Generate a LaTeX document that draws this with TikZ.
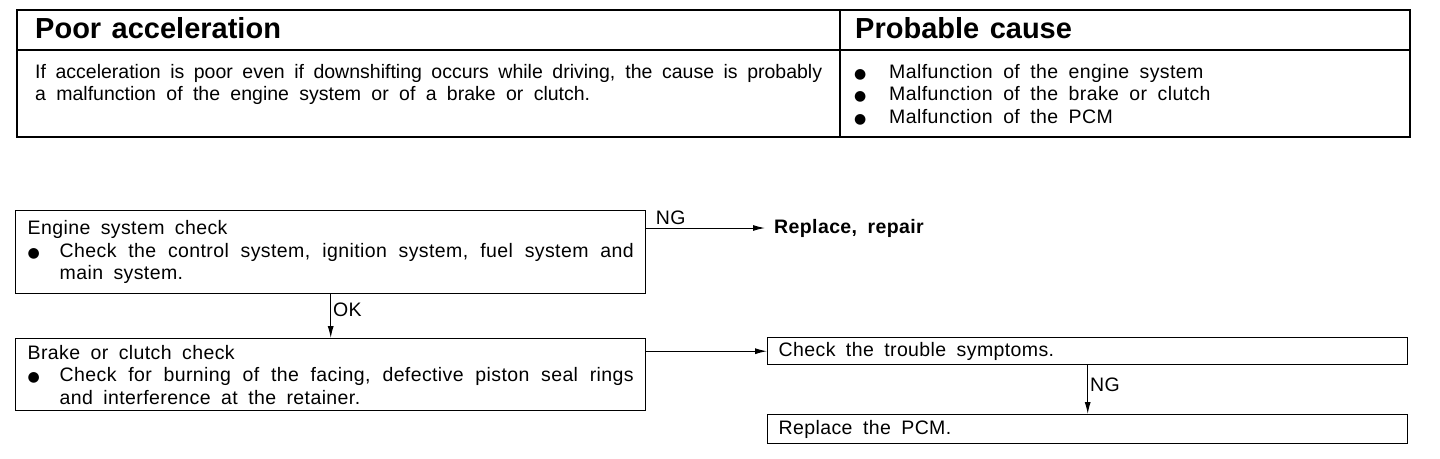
\documentclass[tikz,border=0pt]{standalone}
\usepackage{fontspec}
\setmainfont{Liberation Sans}[LetterSpace=2,WordSpace=1.8]
\newfontfamily\tightfont{Liberation Sans}[WordSpace=1.3]
\newfontfamily\symfont{DejaVu Sans}
\usetikzlibrary{positioning,arrows.meta}
\newcommand{\blt}[1]{\makebox[#1][l]{\symfont\fontsize{14}{14}\selectfont ●}}
\newcommand{\bodysize}{\fontsize{19.5}{22.5}\selectfont}
\newcommand{\headsize}{\fontsize{29}{32}\selectfont}

\begin{document}
\begin{tikzpicture}[x=1pt, y=-1pt, >={Latex[length=12pt,width=6pt]},
        box/.style={draw, line width=1.4pt, anchor=north west, align=justify,
          inner ysep=0pt, font=\bodysize},
        head/.style={anchor=base west, inner sep=0pt, font=\tightfont\bfseries\headsize},
        lbl/.style={font=\bodysize, inner sep=2pt},
        link/.style={->, line width=1pt}]
    \useasboundingbox (0,0) rectangle (1440,458);
    \draw[line width=2.4pt] (17,10) rectangle (1410,137);
    \draw[line width=1.2pt] (17,50) -- (1410,50);
    \draw[line width=1.2pt] (840,10) -- (840,137);
    \node (title) [head] at (35,38) {Poor acceleration};
    \node (causehead) [head] at (855,38) {Probable cause};
    \node (desc) [anchor=north west, inner sep=0pt, text width=787pt, align=justify,
        font=\tightfont\fontsize{19.5}{22.5}\selectfont] at (35,64)
        {If acceleration is poor even if downshifting occurs while driving, the cause is probably\linebreak
         \makebox[555pt][s]{a malfunction of the engine system or of a brake or clutch.}};
    \node (causes) [anchor=north west, inner sep=0pt, align=left, font=\bodysize] at (854,64)
        {\blt{35pt}Malfunction of the engine system\\
         \blt{35pt}Malfunction of the brake or clutch\\
         \blt{35pt}Malfunction of the PCM};

    \node (engine) [box, minimum width=630pt, minimum height=83pt, text width=606pt,
        inner xsep=12pt] at (15,210)
        {Engine system check\\
         \blt{32pt}\parbox[t]{574pt}{Check the control system, ignition system, fuel system and\linebreak
         main system.}};
    \node (brake) [box, minimum width=630pt, minimum height=72pt, text width=606pt,
        inner xsep=12pt] at (15,338)
        {Brake or clutch check\\
         \blt{32pt}\parbox[t]{574pt}{Check for burning of the facing, defective piston seal rings\linebreak
         and interference at the retainer.}};
    \node (fix) [anchor=west, inner xsep=9pt, font=\bfseries\bodysize] at (765,228) {Replace, repair};
    \node (symptoms) [box, minimum width=640pt, minimum height=27pt, text width=618pt,
        inner xsep=11pt] at (767,337) {Check the trouble symptoms.};
    \node (pcm) [box, minimum width=640pt, minimum height=29pt, text width=618pt,
        inner xsep=11pt] at (767,414) {Replace the PCM.};

    \draw[link] (engine.east |- fix.west) -- node (ng1) [lbl, at start, anchor=south west, xshift=7pt, yshift=1pt] {NG} (fix.west);
    \draw[link] (engine.south) -- node (ok) [lbl, pos=0.35, right] {OK} (brake.north);
    \draw[link] (brake.east |- symptoms.west) -- (symptoms.west);
    \draw[link] (symptoms.south) -- node (ng2) [lbl, pos=0.4, right] {NG} (pcm.north);
\end{tikzpicture}
\end{document}
